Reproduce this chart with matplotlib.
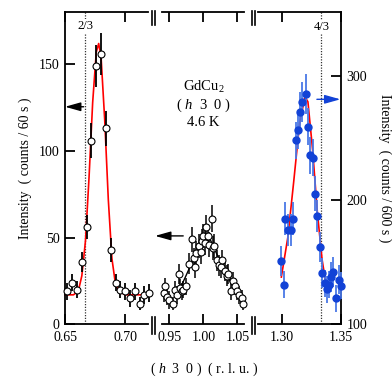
import numpy as np
import matplotlib
matplotlib.use('Agg')
import matplotlib.pyplot as plt
from matplotlib.lines import Line2D

plt.rcParams['font.family'] = ['Liberation Serif', 'DejaVu Serif']
plt.rcParams['mathtext.fontset'] = 'custom'
plt.rcParams['mathtext.rm'] = 'Liberation Serif'
plt.rcParams['mathtext.it'] = 'Liberation Serif:italic'

# 2/3 peak (counts / 60 s)
h_left = [0.652, 0.656, 0.660, 0.664, 0.668, 0.672, 0.676, 0.680, 0.684,
          0.688, 0.692, 0.696, 0.700, 0.704, 0.708, 0.712, 0.716, 0.720]
i_left = [19, 24, 20, 36, 56, 106, 149, 156, 113, 43, 24, 20, 19, 15, 19, 12, 17, 18]
e_left = [5, 5, 5, 6, 7, 10, 12, 12, 10, 7, 5, 5, 5, 5, 5, 4, 5, 5]
fit_left_h = [0.650, 0.657, 0.661, 0.664, 0.667, 0.670, 0.673, 0.676, 0.678,
              0.680, 0.683, 0.686, 0.689, 0.692, 0.695, 0.700, 0.710, 0.720]
fit_left_i = [17, 17, 19, 28, 48, 85, 128, 157, 162, 154, 118, 72, 38, 23, 19, 17, 17, 17]

# 1 peak (counts / 60 s)
h_mid = [0.942, 0.944, 0.947, 0.950, 0.955, 0.959, 0.962, 0.964, 0.966, 0.969,
         0.971, 0.975, 0.979, 0.983, 0.986, 0.988, 0.990, 0.993, 0.996, 0.998,
         1.000, 1.002, 1.004, 1.007, 1.009, 1.012, 1.014, 1.016, 1.0195, 1.023,
         1.026, 1.028, 1.0316, 1.034, 1.0365, 1.040, 1.0437, 1.047, 1.050,
         1.0525, 1.056, 1.0585]
i_mid = [18, 22, 16, 14, 12, 20, 17, 29, 21, 19, 20, 22, 35, 49, 38, 33, 41, 45,
         42, 48, 51, 47, 56, 51, 46, 61, 44, 45, 37, 34, 33, 37, 31, 28, 29, 19,
         25, 22, 19, 17, 15, 12]
e_mid = [5, 5, 5, 5, 4, 5, 5, 6, 5, 5, 5, 5, 6, 7, 6, 6, 7, 7, 7, 7, 7, 7, 7, 7,
         7, 8, 7, 7, 6, 6, 6, 6, 6, 6, 6, 5, 5, 5, 5, 5, 5, 4]
fit_mid_h = [0.958, 0.970, 0.985, 0.998, 1.004, 1.010, 1.025, 1.040, 1.060]
fit_mid_i = [16, 24, 37, 48, 51, 49, 36, 24, 12]

# 4/3 peak (counts / 600 s)
h_right = [1.2995, 1.3014, 1.3023, 1.3051, 1.3080, 1.3094, 1.3117, 1.3136,
           1.3157, 1.3174, 1.3202, 1.3222, 1.3236, 1.3259, 1.3280, 1.3301,
           1.3321, 1.3336, 1.3364, 1.3380, 1.3395, 1.3415, 1.3434, 1.3457,
           1.3486, 1.3497]
i_right = [151, 132, 185, 176, 176, 185, 248, 256, 271, 279, 285, 259, 236,
           234, 205, 187, 162, 141, 133, 128, 132, 138, 142, 121, 136, 131]
e_right = [12, 11, 13, 13, 13, 13, 15, 15, 16, 16, 16, 15, 15, 15, 14, 13,
           12, 12, 11, 11, 11, 12, 12, 11, 12, 11]
fit_right_h = [1.2995, 1.305, 1.310, 1.315, 1.3195, 1.322, 1.326, 1.330,
               1.334, 1.337, 1.340]
fit_right_i = [138, 170, 215, 262, 283, 279, 240, 190, 152, 134, 129]

W, H = 392, 378
fig = plt.figure(figsize=(W / 100, H / 100), dpi=100)

def box(x0, x1, y0=12.3, y1=324.3):
    return [x0 / W, 1 - y1 / H, (x1 - x0) / W, (y1 - y0) / H]

ax1 = fig.add_axes(box(65, 148))
ax2 = fig.add_axes(box(162.3, 244.3))
ax3 = fig.add_axes(box(258.3, 341))

ax1.set_xlim(0.65, 0.719)
ax2.set_xlim(0.94, 1.06)
ax3.set_xlim(1.28, 1.35)
for ax in (ax1, ax2):
    ax.set_ylim(0, 180)
ax3.set_ylim(100, 351)

for ax in (ax1, ax2, ax3):
    ax.patch.set_alpha(0)
    for s in ax.spines.values():
        s.set_linewidth(1.3)
    ax.tick_params(direction='in', length=7, width=1.3, labelsize=10, top=True,
                   pad=5)

ax1.spines['right'].set_visible(False)
ax2.spines['left'].set_visible(False)
ax2.spines['right'].set_visible(False)
ax3.spines['left'].set_visible(False)

ax1.set_xticks([0.65, 0.70])
ax1.set_xticklabels(['0.65', '0.70'])
ax1.set_yticks([0, 50, 100, 150])
ax1.tick_params(axis='y', pad=4)
ax2.set_xticks([0.95, 1.00, 1.05])
ax2.set_xticklabels(['0.95', '1.00', '1.05'])
ax2.set_yticks([])
ax3.set_xticks([1.30, 1.35])
ax3.set_xticklabels(['1.30', '1.35'])
ax3.yaxis.tick_right()
ax3.set_yticks([100, 200, 300])
ax3.tick_params(axis='y', direction='in', pad=4, left=False, right=True)

# open circles
ax1.plot(fit_left_h, fit_left_i, color='red', lw=1.2, zorder=2, clip_on=False)
ax1.errorbar(h_left, i_left, yerr=e_left, fmt='o', ms=5, mfc='white', mec='black',
             mew=0.8, ecolor='black', elinewidth=1.3, capsize=0, zorder=3,
             clip_on=False)
ax2.plot(fit_mid_h, fit_mid_i, color='black', lw=1.0, zorder=2)
ax2.errorbar(h_mid, i_mid, yerr=e_mid, fmt='o', ms=5, mfc='white', mec='black',
             mew=0.8, ecolor='black', elinewidth=1.1, capsize=0, zorder=3,
             clip_on=False)

# filled blue circles
ax3.plot(fit_right_h, fit_right_i, color='red', lw=1.2, zorder=2)
ax3.errorbar(h_right, i_right, yerr=e_right, fmt='o', ms=5, mfc='#1242d6',
             mec='#1242d6', ecolor='#4a78e6', elinewidth=1.3, capsize=0,
             zorder=3, clip_on=False)

# commensurate positions
ax1.axvline(2 / 3, color='#333333', lw=0.9, ls=(0, (1, 1.2)), zorder=1)
ax3.axvline(4 / 3, color='#333333', lw=0.9, ls=(0, (1, 1.2)), zorder=1)
ax1.text(2 / 3, 172, '2/3', ha='center', va='center', fontsize=9,
         bbox=dict(facecolor='white', edgecolor='none', pad=0.5))
ax3.text(4 / 3, 339, '4/3', ha='center', va='center', fontsize=9,
         bbox=dict(facecolor='white', edgecolor='none', pad=0.5))

# arrows telling which axis
head = '-|>,head_length=0.5,head_width=0.14'
ax1.annotate('', xy=(0.65, 125.5), xytext=(0.6655, 125.5),
             arrowprops=dict(arrowstyle=head, color='black', lw=1.0,
                             mutation_scale=19, shrinkA=0, shrinkB=0))
ax2.annotate('', xy=(0.9294, 51), xytext=(0.9706, 51), annotation_clip=False,
             arrowprops=dict(arrowstyle=head, color='black', lw=1.0,
                             mutation_scale=19, shrinkA=0, shrinkB=0))
ax3.annotate('', xy=(1.3495, 281), xytext=(1.3296, 281),
             arrowprops=dict(arrowstyle=head, color='#1242d6', lw=1.0,
                             mutation_scale=19, shrinkA=0, shrinkB=0))

# sample label
ax2.text(1.0, 137, r'GdCu$_2$', ha='center', va='center', fontsize=10.5)
ax2.text(1.0, 126.5, r'( $h$  3  0 )', ha='center', va='center', fontsize=10.5)
ax2.text(1.0, 116.5, '4.6 K', ha='center', va='center', fontsize=10.5)

# axis break marks
for xb in (151.5, 154.5, 251.5, 254.5):
    fig.add_artist(Line2D([xb / W, xb / W], [1 - 11 / H, 1 - 25 / H],
                          color='black', lw=1.2))
    fig.add_artist(Line2D([xb / W, xb / W], [1 - 316.5 / H, 1 - 334 / H],
                          color='black', lw=1.2))

fig.text(25 / W, 1 - 168 / H, 'Intensity  ( counts / 60 s )', rotation=90,
         ha='center', va='center', fontsize=10)
fig.text(385 / W, 1 - 168 / H, 'Intensity  ( counts / 600 s )', rotation=-90,
         ha='center', va='center', fontsize=10)
fig.text(204 / W, 1 - 369 / H, r'( $h$  3  0 )  ( r. l. u. )', ha='center',
         va='center', fontsize=10)

fig.savefig('out.png', dpi=100)
